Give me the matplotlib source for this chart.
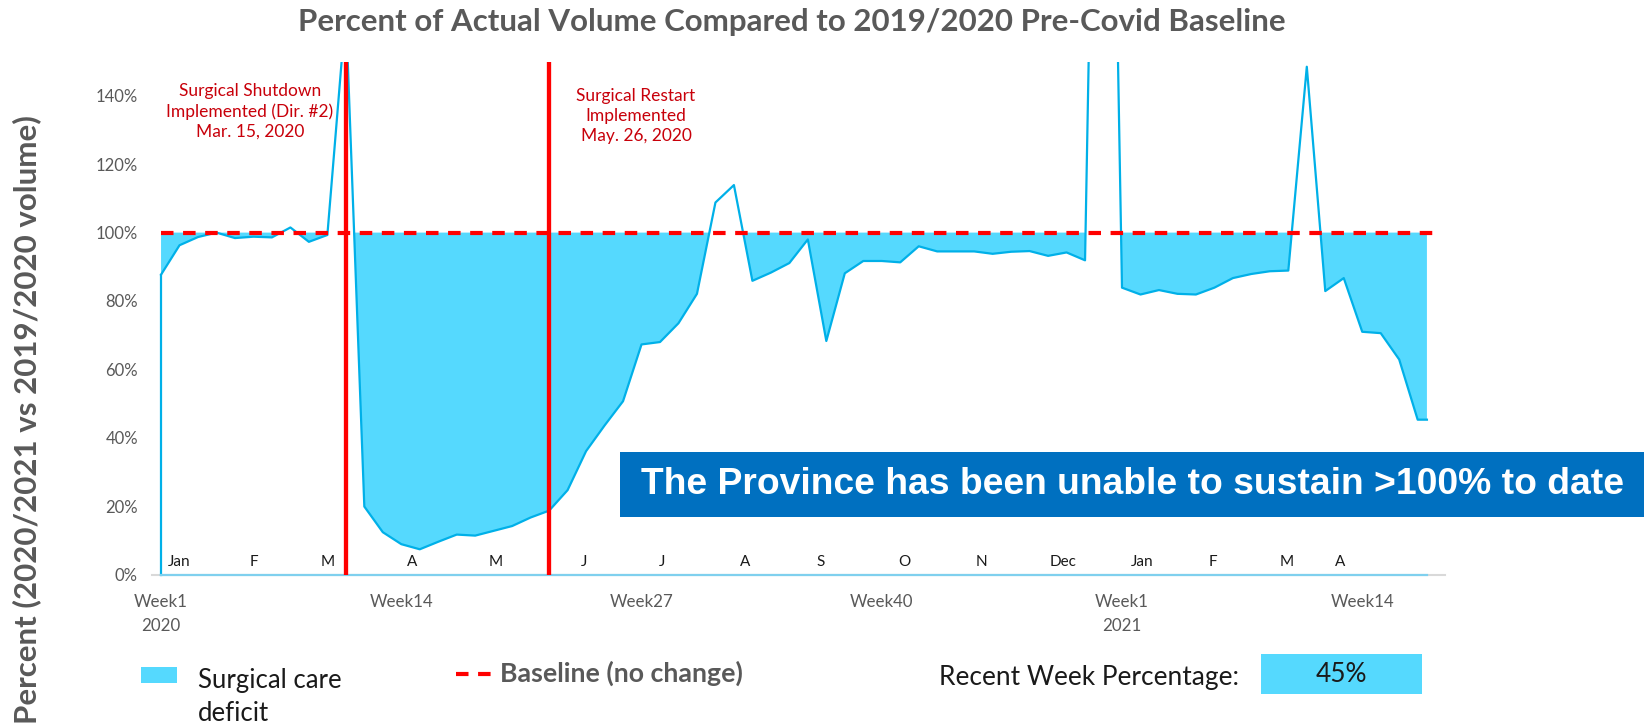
import numpy as np
import matplotlib
matplotlib.use("Agg")
import matplotlib.pyplot as plt
from matplotlib.patches import Rectangle
from matplotlib.lines import Line2D

# ---- data ---------------------------------------------------------------
# Weekly surgical volume as a percent of the 2019/2020 pre-Covid baseline
pct_volume = [
    87.7, 96.3, 98.7, 100.0, 98.4, 98.8, 98.6, 101.5, 97.3, 99.3,
    165.0, 19.9, 12.4, 8.9, 7.4, 9.6, 11.7, 11.4, 12.8, 14.2,
    16.7, 18.7, 24.7, 36.1, 43.6, 50.7, 67.3, 68.0, 73.5, 82.1,
    108.8, 113.9, 85.9, 88.3, 91.1, 98.0, 68.3, 88.1, 91.7, 91.7,
    91.3, 96.0, 94.5, 94.5, 94.5, 93.8, 94.4, 94.6, 93.2, 94.2,
    91.9, 390.0, 83.9, 81.9, 83.2, 82.1, 81.9, 83.9, 86.7, 87.9,
    88.7, 88.9, 148.5, 82.9, 86.7, 71.0, 70.6, 62.9, 45.3,
]
baseline_pct = 100.0
n_categories = 70                    # week slots on the category axis

week_tick_pos = [0, 13, 26, 39, 52, 65]
week_tick_labels = ["Week1\n2020", "Week14", "Week27", "Week40", "Week1\n2021", "Week14"]

month_labels = ["Jan", "F", "M", "A", "M", "J", "J", "A", "S", "O", "N", "Dec",
                "Jan", "F", "M", "A"]
month_pos = [1.0, 5.0, 9.0, 13.6, 18.1, 22.9, 27.1, 31.6, 35.7, 40.2, 44.4, 48.8,
             53.1, 56.9, 60.9, 63.8]

event_weeks = [10, 21]
event_texts = ["Surgical Shutdown\nImplemented (Dir. #2)\nMar. 15, 2020",
               "Surgical Restart\nImplemented\nMay. 26, 2020"]
event_text_pos = [(4.8, 135.5), (25.7, 134)]

y_ticks = [0, 20, 40, 60, 80, 100, 120, 140]

# ---- style --------------------------------------------------------------
FONT = "Lato"
FILL = "#55D9FE"
LINE = "#00B0E8"
RED = "#FF0000"
ANNOT = "#C8000A"
GREY = "#595959"
W, H = 1651, 724

plt.rcParams["font.family"] = [FONT, "DejaVu Sans"]

fig = plt.figure(figsize=(W / 100, H / 100), dpi=100)
ax = fig.add_axes([151.8 / W, 1 - 574.6 / H, (1445.4 - 151.8) / W, (574.6 - 61.6) / H])

v = np.asarray(pct_volume, dtype=float)
x = np.arange(len(v), dtype=float)
# area and line run half a slot past the most recent week
xe = np.append(x, x[-1] + 0.5)
ve = np.append(v, v[-1])

ax.fill_between(xe, ve, baseline_pct, where=ve < baseline_pct, interpolate=True,
                facecolor=FILL, edgecolor="none", zorder=1)
ax.plot(xe, ve, color=LINE, lw=1.6, zorder=3)
ax.plot([x[0], x[0]], [0, v[0]], color=LINE, lw=1.6, zorder=3, clip_on=False)
ax.plot([x[0], xe[-1]], [0, 0], color="#7FD0EE", lw=1.6, zorder=3, clip_on=False)

xb = np.arange(n_categories)
ax.plot(xb, np.full(n_categories, baseline_pct), color=RED, lw=3.0,
        dashes=(3.0, 2.3), zorder=4)

for wk in event_weeks:
    ax.axvline(wk, ymin=0, ymax=1, color=RED, lw=3.1, zorder=5)
for txt, (tx, ty) in zip(event_texts, event_text_pos):
    ax.text(tx, ty, txt, color=ANNOT, fontsize=12.5, ha="center", va="center",
            linespacing=1.3, zorder=6)

for lab, pos in zip(month_labels, month_pos):
    ax.text(pos, 3.8, lab, fontsize=11, color="#1A1A1A", ha="center", va="center", zorder=6)

ax.set_xlim(-0.5, n_categories - 0.5)
ax.set_ylim(0, 150)
ax.set_yticks(y_ticks)
ax.set_yticklabels([f"{t}%" for t in y_ticks], color=GREY, fontsize=12)
ax.set_xticks(week_tick_pos)
ax.set_xticklabels(week_tick_labels, color=GREY, fontsize=12.2, linespacing=1.6)
ax.tick_params(axis="both", length=0)
ax.tick_params(axis="x", pad=14)
ax.tick_params(axis="y", pad=10)
for s in ["top", "right", "left"]:
    ax.spines[s].set_visible(False)
ax.spines["bottom"].set_color("#D9D9D9")
ax.spines["bottom"].set_linewidth(1.5)
ax.spines["bottom"].set_zorder(2)

# title and axis label
fig.text(792 / W, 1 - 22 / H, "Percent of Actual Volume Compared to 2019/2020 Pre-Covid Baseline",
         ha="center", va="center", fontsize=22.5, fontweight="bold", color=GREY)
fig.text(27 / W, 1 - 420 / H, "Percent (2020/2021 vs 2019/2020 volume)", rotation=90,
         ha="center", va="center", fontsize=22.5, fontweight="bold", color=GREY)

# call-out banner
fig.patches.append(Rectangle((620 / W, 1 - 517 / H), (1644 - 620) / W, 65 / H,
                             transform=fig.transFigure, facecolor="#0070C0",
                             edgecolor="none", zorder=10))
fig.text(1132 / W, 1 - 485 / H, "The Province has been unable to sustain >100% to date",
         ha="center", va="center", fontsize=26.8, fontweight="bold", color="white",
         family=["Liberation Sans", "DejaVu Sans"], zorder=11)

# legend row
fig.patches.append(Rectangle((141 / W, 1 - 683 / H), 36 / W, 16 / H,
                             transform=fig.transFigure, facecolor=FILL, edgecolor="none"))
fig.text(198 / W, 1 - 697 / H, "Surgical care\ndeficit", ha="left", va="center",
         fontsize=18.5, color="#1A1A1A", linespacing=1.42)
fig.lines.append(Line2D([456 / W, 491 / W], [1 - 674 / H, 1 - 674 / H],
                        transform=fig.transFigure, color=RED, lw=3.0, dashes=(3.0, 2.3)))
fig.text(500 / W, 1 - 673 / H, "Baseline (no change)", ha="left", va="center",
         fontsize=19.3, fontweight="bold", color=GREY)
fig.text(939 / W, 1 - 677 / H, "Recent Week Percentage:", ha="left", va="center",
         fontsize=18.9, color="#1A1A1A")
fig.patches.append(Rectangle((1261 / W, 1 - 694 / H), 161 / W, 40 / H,
                             transform=fig.transFigure, facecolor=FILL, edgecolor="none"))
fig.text(1341 / W, 1 - 674 / H, f"{v[-1]:.0f}%", ha="center", va="center",
         fontsize=18.9, color="#1A1A1A")

fig.savefig("out.png", dpi=100)
